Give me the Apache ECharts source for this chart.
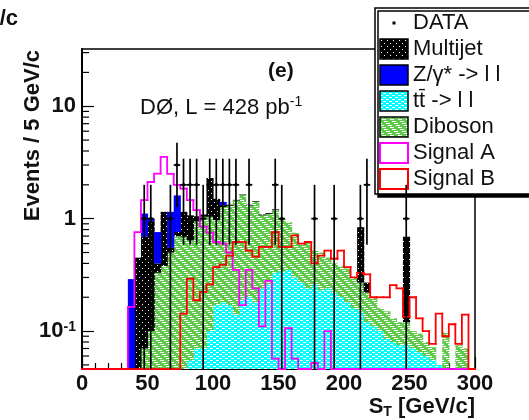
<!DOCTYPE html>
<html><head><meta charset="utf-8">
<script src="https://cdn.jsdelivr.net/npm/echarts@6/dist/echarts.min.js"></script>
<style>html,body{margin:0;padding:0;background:#fff}#c{width:529px;height:420px}</style>
</head><body><div id="c"></div>
<script>
// ---------------- data (5 GeV bins, 0-300 GeV) ----------------
const binWidth = 5;
const xMin = 0, xMax = 300, xInterval = 50;
const yMin = 0.046, yMax = 32.3;

const ttbar = [
  0,0,0,0,0,0,0,0,0,0,
  0,0,0,0,0,0.04,0.055,0.07,0.07,0.1,
  0.17,0.18,0.17,0.14,0.19,0.2,0.18,0.24,0.26,0.33,
  0.34,0.35,0.3,0.27,0.24,0.26,0.23,0.24,0.22,0.2,
  0.18,0.16,0.15,0.12,0.11,0.1,0.085,0.08,0.075,0.075,
  0.07,0.065,0.06,0.055,0.05,0,0,0,0,0
];
const diboson = [
  0,0,0,0,0,0,0,0,0.02,0.07,
  0.1,0.33,0.38,0.5,0.7,0.65,0.585,0.88,0.97,0.94,
  0.8,1.09,1.13,1.31,1.43,1.11,1.23,0.83,0.84,0.86,
  0.66,0.58,0.45,0.33,0.38,0.26,0.27,0.21,0.18,0.18,
  0.18,0.14,0.12,0.1,0.09,0.06,0.065,0.05,0.045,0.045,
  0.03,0.03,0.02,0.017,0,0.098,0,0.075,0.07,0
];
const multijet = [
  0,0,0,0,0,0,0,0,0.43,0.62,
  0.85,0.07,0.77,0.05,0.06,0.46,0.43,0.1,0.05,1.26,
  0.53,0.05,0.03,0.02,0.02,0.02,0.02,0.02,0.02,0.02,
  0,0,0,0,0,0,0,0,0,0,
  0,0,0.57,0.05,0,0,0,0,0,0.57,
  0,0,0,0,0,0,0,0,0,0
];
const zll = [
  0,0,0,0,0,0,0,0.29,0,0.42,
  0.05,0.36,0,0.6,0.85,0,0,0,0,0,
  0,0.09,0,0,0,0,0,0,0,0,
  0,0,0,0,0,0,0,0,0,0,
  0,0,0,0,0,0,0,0,0,0,
  0,0,0,0,0,0,0,0,0,0
];
const signalA = [
  0,0,0,0,0,0,0,0.164,0.76,1.46,
  2.12,2.52,3.55,2.5,2.0,1.85,1.46,1.19,0.85,0.75,
  0.62,0.6,0.5,0.35,0.17,0.35,0.24,0.11,0.28,0.057,
  0,0.106,0.057,0,0,0.052,0,0.1,0,0,
  0,0,0,0,0,0,0,0,0,0,
  0,0,0,0,0,0,0,0,0,0
];
const signalB = [
  0,0,0,0,0,0,0,0,0,0,
  0,0,0,0,0,0.143,0.293,0.188,0.223,0.26,
  0.37,0.39,0.47,0.62,0.62,0.52,0.46,0.56,0.56,0.76,
  0.56,0.56,0.71,0.6,0.62,0.4,0.47,0.52,0.44,0.52,
  0.37,0.3,0.33,0.32,0.2,0.2,0.2,0.256,0.24,0.134,
  0.2,0.13,0.1,0.077,0.143,0.09,0.115,0.077,0.14,0
];
const dataX = [47.5,52.5,67.5,72.5,77.5,82.5,87.5,92.5,97.5,102.5,107.5,112.5,117.5,127.5,147.5,152.5,177.5,192.5,212.5,217.5,247.5];
const dataN = [1,1,1,3,2,2,2,1,2,2,2,2,2,2,2,1,1,1,1,2,1];

const names = {
  data: 'DATA', mj: 'Multijet', z: 'Z/\u03b3* -> l l', tt: 'tt\u0304 -> l l',
  db: 'Diboson', sa: 'Signal A', sb: 'Signal B'
};

// ---------------- styles ----------------
const FONT = '"Liberation Sans", Arial, Helvetica, sans-serif';
function pattern(w, h, bg, fg, rects) {
  const c = document.createElement('canvas'); c.width = w; c.height = h;
  const g = c.getContext('2d'); g.fillStyle = bg; g.fillRect(0, 0, w, h);
  g.fillStyle = fg; rects.forEach(r => g.fillRect(r[0], r[1], r[2], r[3]));
  return { image: c, repeat: 'repeat' };
}
const cyanPat = pattern(6, 4, '#00ffff', '#ffffff', [[0,0,3,1],[3,2,3,1]]);
const greenPat = pattern(8, 8, '#5fca4b', '#ffffff', [[0,0,4,1],[2,2,4,1],[4,4,4,1],[6,6,2,1],[0,6,2,1]]);
const blackPat = pattern(6, 6, '#000000', '#ffffff', [[1,1,1,1],[4,4,1,1]]);

const nBins = ttbar.length;
const cy = v => Math.max(v, yMin);

// stacked components, bottom to top
const comps = [
  { name: names.tt, vals: ttbar, fill: cyanPat },
  { name: names.db, vals: diboson, fill: greenPat },
  { name: names.mj, vals: multijet, fill: blackPat },
  { name: names.z, vals: zll, fill: '#0000ff' }
];
const series = [];
let cum = new Array(nBins).fill(0);
comps.forEach((c, k) => {
  const lower = cum.slice();
  const upper = cum.map((v, i) => v + c.vals[i]);
  cum = upper;
  const items = [];
  for (let i = 0; i < nBins; i++) items.push([i * binWidth, (i + 1) * binWidth, lower[i], upper[i]]);
  series.push({
    name: c.name, type: 'custom', coordinateSystem: 'cartesian2d', clip: false, z: 2 + k * 0.01, silent: true,
    itemStyle: { color: c.fill },
    encode: { x: [0, 1], y: [2, 3] },
    data: items,
    renderItem: (params, api) => {
      const lo = api.value(2), hi = api.value(3);
      if (!(hi > lo) || hi <= yMin) return null;
      const p1 = api.coord([api.value(0), cy(hi)]);
      const p2 = api.coord([api.value(1), cy(lo)]);
      return { type: 'rect', shape: { x: p1[0], y: p1[1], width: p2[0] - p1[0] + 0.6, height: p2[1] - p1[1] },
               style: { fill: c.fill } };
    }
  });
});

function histLine(name, vals, color) {
  const items = [];
  for (let i = 0; i < nBins; i++) items.push([i * binWidth, (i + 1) * binWidth, i > 0 ? vals[i - 1] : 0, vals[i]]);
  return {
    name, type: 'custom', coordinateSystem: 'cartesian2d', clip: false, z: 3, silent: true,
    itemStyle: { color }, encode: { x: [0, 1], y: [2, 3] }, data: items,
    renderItem: (params, api) => {
      const x0 = api.value(0), x1 = api.value(1), prev = api.value(2), v = api.value(3);
      const a = api.coord([x0, cy(prev)]), b = api.coord([x0, cy(v)]), c = api.coord([x1, cy(v)]);
      return { type: 'polyline', shape: { points: [a, b, c] },
               style: { stroke: color, lineWidth: 1.8, fill: null, lineCap: 'square' } };
    }
  };
}
series.push(histLine(names.sa, signalA, '#ff00ff'));
series.push(histLine(names.sb, signalB, '#ff0000'));

series.push({
  name: names.data, type: 'custom', coordinateSystem: 'cartesian2d', clip: false, z: 4, silent: true,
  itemStyle: { color: '#000' }, encode: { x: 0, y: 1 },
  data: dataX.map((x, i) => [x, dataN[i]]),
  renderItem: (params, api) => {
    const x = api.value(0), n = api.value(1), e = Math.sqrt(n);
    const c = api.coord([x, n]);
    const t = api.coord([x, n + e]);
    const b = api.coord([x, cy(n - e)]);
    const l = api.coord([x - binWidth / 2, n]), r = api.coord([x + binWidth / 2, n]);
    const st = { stroke: '#000', lineWidth: 1.7 };
    return { type: 'group', children: [
      { type: 'line', shape: { x1: c[0], y1: t[1], x2: c[0], y2: b[1] }, style: st },
      { type: 'line', shape: { x1: l[0], y1: c[1], x2: r[0], y2: c[1] }, style: st },
      { type: 'circle', shape: { cx: c[0], cy: c[1], r: 1.8 }, style: { fill: '#000' } }
    ] };
  }
});

// minor ticks on the log axis (2..9 x 10^k)
const minorVals = [];
for (let e = -2; e <= 1; e++) for (let m = 2; m <= 9; m++) {
  const v = m * Math.pow(10, e);
  if (v > yMin && v < yMax) minorVals.push(v);
}
series.push({
  name: 'yMinor', type: 'custom', coordinateSystem: 'cartesian2d', clip: false, z: 5, silent: true,
  encode: { y: 0 }, data: minorVals.map(v => [v]),
  renderItem: (params, api) => {
    const p = api.coord([xMin, api.value(0)]);
    return { type: 'line', shape: { x1: p[0], y1: p[1], x2: p[0] + 7, y2: p[1] }, style: { stroke: '#000', lineWidth: 1.2 } };
  }
});
series[series.length - 1].encode = { x: 1, y: 0 };
series[series.length - 1].data = minorVals.map(v => [v, xMin]);

const chart = echarts.init(document.getElementById('c'), null, { renderer: 'canvas' });
chart.setOption({
  animation: false,
  backgroundColor: '#fff',
  textStyle: { fontFamily: FONT },
  grid: { left: 82, top: 49, right: 54, bottom: 51, show: true, borderColor: '#000', borderWidth: 1.5, backgroundColor: 'transparent' },
  xAxis: {
    type: 'value', min: xMin, max: xMax, interval: xInterval,
    axisLine: { lineStyle: { color: '#000', width: 2 } },
    axisTick: { inside: true, length: 12, lineStyle: { color: '#000', width: 1.2 } },
    minorTick: { show: true, splitNumber: 5, length: 6, lineStyle: { color: '#000', width: 1.2 } },
    splitLine: { show: false },
    axisLabel: { fontSize: 22, fontWeight: 'bold', color: '#111', margin: 4, fontFamily: FONT },
    name: '{s|S}{t|T}{s| [GeV/c]}', nameLocation: 'end', nameGap: 0,
    nameTextStyle: { align: 'right', verticalAlign: 'top', padding: [26, 0, 0, 0],
      rich: { s: { fontSize: 22, fontWeight: 'bold', color: '#111', fontFamily: FONT, lineHeight: 24 },
              t: { fontSize: 14, fontWeight: 'bold', color: '#111', fontFamily: FONT, lineHeight: 14, verticalAlign: 'bottom' } } }
  },
  yAxis: {
    type: 'log', logBase: 10, min: yMin, max: yMax,
    axisLine: { lineStyle: { color: '#000', width: 2 } },
    axisTick: { inside: true, length: 12, lineStyle: { color: '#000', width: 1.2 } },
    splitLine: { show: false },
    axisLabel: {
      fontSize: 22, fontWeight: 'bold', color: '#111', margin: 6, fontFamily: FONT,
      showMinLabel: false, showMaxLabel: false,
      formatter: v => {
        const l = Math.log10(v), e = Math.round(l);
        if (Math.abs(l - e) > 1e-6) return '';
        if (e === 1) return '10';
        if (e === 0) return '1';
        return '10{sup|' + e + '}';
      },
      rich: { sup: { fontSize: 14, fontWeight: 'bold', color: '#111', fontFamily: FONT, verticalAlign: 'top', lineHeight: 14 } }
    },
    name: 'Events / 5 GeV/c', nameLocation: 'end', nameGap: -1, nameRotate: 90,
    nameTextStyle: { fontSize: 22, fontWeight: 'bold', color: '#111', fontFamily: FONT, align: 'right', verticalAlign: 'bottom', padding: [0, 0, 38, 0] }
  },
  legend: {
    orient: 'vertical', left: 375, top: 8, padding: [4, 32, 4, 4], itemGap: 4, itemWidth: 28, itemHeight: 20,
    backgroundColor: '#fff', borderColor: '#000', borderWidth: 1.5,
    shadowColor: '#000', shadowOffsetX: 3, shadowOffsetY: 3, shadowBlur: 0,
    selectedMode: false,
    textStyle: { fontSize: 22, color: '#111', fontFamily: FONT },
    data: [
      { name: names.data, icon: 'path://M0,0M28,20M12.5,8.5h3v3h-3z', itemStyle: { color: '#000', borderWidth: 0 } },
      { name: names.mj, icon: 'rect', itemStyle: { color: blackPat, borderColor: '#000', borderWidth: 1.5 } },
      { name: names.z, icon: 'rect', itemStyle: { color: '#0000ff', borderColor: '#000', borderWidth: 1.5 } },
      { name: names.tt, icon: 'rect', itemStyle: { color: cyanPat, borderColor: '#000', borderWidth: 1.5 } },
      { name: names.db, icon: 'rect', itemStyle: { color: greenPat, borderColor: '#000', borderWidth: 1.5 } },
      { name: names.sa, icon: 'rect', itemStyle: { color: '#fff', borderColor: '#ff00ff', borderWidth: 2 } },
      { name: names.sb, icon: 'rect', itemStyle: { color: '#fff', borderColor: '#ff0000', borderWidth: 2 } }
    ]
  },
  graphic: [
    { type: 'text', x: 268, y: 71, style: { text: '(e)', font: 'bold 21px ' + FONT, fill: '#111', verticalAlign: 'middle' } },
    { type: 'text', x: 140, y: 108, style: { text: '{a|D\u00d8, L = 428 pb}{b|-1}', verticalAlign: 'middle',
        rich: { a: { font: '22px ' + FONT, fill: '#111', lineHeight: 26 },
                b: { font: '14px ' + FONT, fill: '#111', verticalAlign: 'top', lineHeight: 14 } } } },
    { type: 'text', x: 18, y: 19, style: { text: 'GeV/c', font: 'bold 22px ' + FONT, fill: '#111', align: 'right', verticalAlign: 'middle' } },
    { type: 'text', x: 28, y: -6, style: { text: '300', font: 'bold 22px ' + FONT, fill: '#111', verticalAlign: 'middle' } }
  ],
  series: series
});
</script></body></html>
